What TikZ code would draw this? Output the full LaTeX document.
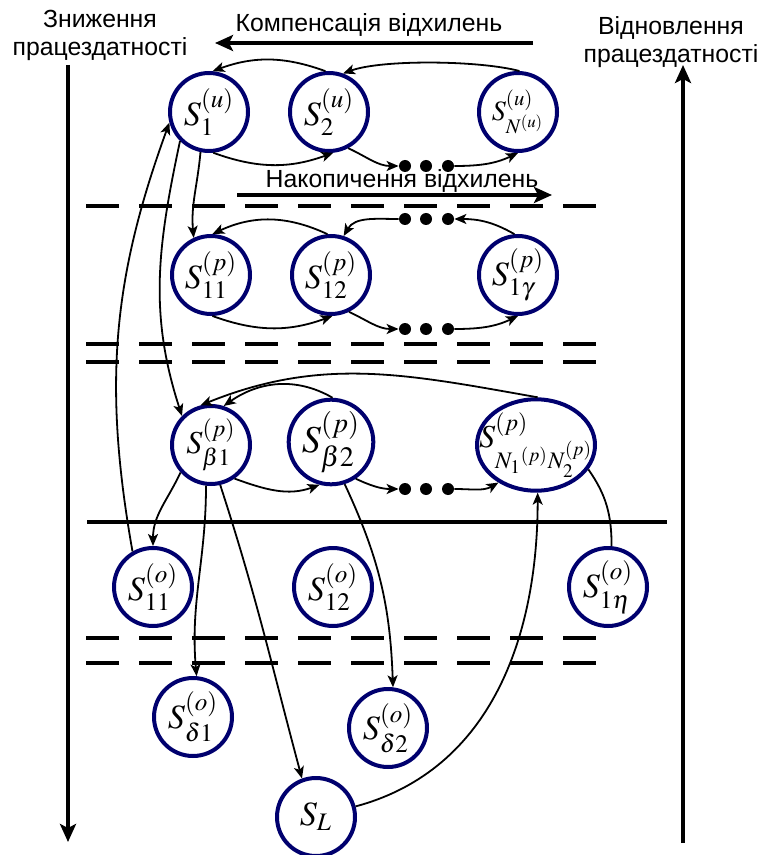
\documentclass[tikz,border=0pt]{standalone}
\usepackage[no-math]{fontspec}
\usepackage{amsmath}
\usepackage{mathptmx}
\usepackage{tikz}
\usetikzlibrary{arrows.meta,shapes.geometric}
\newfontfamily\labelfont{Liberation Sans}
\definecolor{statecol}{RGB}{0,0,110}

\begin{document}
\begin{tikzpicture}[x=0.5pt, y=-0.5pt,
  state/.style={draw=statecol, line width=2pt, circle, minimum size=39pt, inner sep=0pt, font=\fontsize{17}{19}\selectfont},
  dotnode/.style={circle, fill=black, minimum size=6pt, inner sep=0pt},
  link/.style={-{Stealth[length=6pt,width=5pt,inset=1.5pt]}, line width=0.9pt},
  bigarrow/.style={-{Stealth[length=9pt,width=8pt,inset=2pt]}, line width=2pt},
  sepline/.style={line width=2pt, dash pattern=on 16.5pt off 10pt},
  headtext/.style={font=\labelfont\fontsize{12.4}{14}\selectfont, align=center}]
\useasboundingbox (0,0) rectangle (759,855);

% headings and the big arrows
\node[headtext] (down) at (100,35) {Зниження\\працездатності};
\node[headtext] (up) at (671,42) {Відновлення\\працездатності};
\node[headtext] (comp) at (369,25) {Компенсація відхилень};
\node[headtext] (acc) at (402,181) {Накопичення відхилень};
\coordinate (downtop) at (68,65);
\coordinate (downend) at (68,842);
\coordinate (upend) at (683,65);
\coordinate (upbot) at (683,843);
\coordinate (compbeg) at (533,43);
\coordinate (compend) at (215,43);
\coordinate (accbeg) at (237,195);
\coordinate (accend) at (552,195);
\draw[bigarrow] (downtop) -- (downend);
\draw[bigarrow] (upbot) -- (upend);
\draw[bigarrow] (compbeg) -- (compend);
\draw[bigarrow] (accbeg) -- (accend);

% level borders
\draw[sepline] (86,206) -- (598,206);
\draw[sepline] (86,344) -- (598,344);
\draw[sepline] (86,362) -- (598,362);
\draw[line width=2pt] (87,522) -- (667,522);
\draw[sepline] (86,638) -- (598,638);
\draw[sepline] (86,663) -- (598,663);

% states (u)
\node[state] (S1u) at (209,112) {$S^{(u)}_1$};
\node[state] (S2u) at (329,112) {$S^{(u)}_2$};
\node[state, font=\fontsize{14}{16}\selectfont] (SNu) at (518,112) {$S^{(u)}_{N^{(u)}}$};
\node[dotnode] (d1a) at (405,166) {};
\node[dotnode] (d1b) at (426,166) {};
\node[dotnode] (d1c) at (448,166) {};

% states (p), first group
\node[state] (S11p) at (211,275) {$S^{(p)}_{11}$};
\node[state] (S12p) at (331,275) {$S^{(p)}_{12}$};
\node[state] (S1gp) at (518,275) {$S^{(p)}_{1\gamma}$};
\node[dotnode] (d2a) at (405,219) {};
\node[dotnode] (d2b) at (426,219) {};
\node[dotnode] (d2c) at (448,219) {};
\node[dotnode] (d3a) at (405,329) {};
\node[dotnode] (d3b) at (426,329) {};
\node[dotnode] (d3c) at (448,329) {};

% states (p), beta group
\node[state, font=\fontsize{16}{18}\selectfont] (Sb1) at (211,445) {$S^{(p)}_{\beta 1}$};
\node[state, font=\fontsize{19}{21}\selectfont] (Sb2) at (331,442) {$S^{(p)}_{\beta 2}$};
\node[state, ellipse, minimum width=59pt, minimum height=40pt, font=\fontsize{16}{18}\selectfont] (SNN) at (536,445) {\makebox[20pt]{$S^{(p)}_{N_1{}^{(p)}N_2^{(p)}}$}};
\node[dotnode] (d4a) at (405,489) {};
\node[dotnode] (d4b) at (426,489) {};
\node[dotnode] (d4c) at (448,489) {};

% states (o) and S_L
\node[state] (S11o) at (153,587) {$S^{(o)}_{11}$};
\node[state] (S12o) at (333,587) {$S^{(o)}_{12}$};
\node[state] (S1eo) at (608,587) {$S^{(o)}_{1\eta}$};
\node[state] (Sd1) at (193,717) {$S^{(o)}_{\delta 1}$};
\node[state] (Sd2) at (388,728) {$S^{(o)}_{\delta 2}$};
\node[state] (SL) at (316,817) {$S_L$};

% links of the top row
\draw[link] (SNu.88) to[out=165,in=20,looseness=0.6] (S2u.70);
\draw[link] (S2u.95) to[out=160,in=20] (S1u.85);
\draw[link] (S1u.-84) to[out=-20,in=-160] (S2u.-84);
\draw[link] (S2u.-62) to[out=-25,in=180] (d1a);
\draw[link] (d1c) to[out=0,in=-155] (SNu.-90);

% links of the second row
\draw[link] (S1gp.95) to[out=150,in=0] (d2c);
\draw[link] (d2a) to[out=180,in=60] (S12p.72);
\draw[link] (S12p.95) to[out=155,in=25] (S11p.88);
\draw[link] (S11p.-88) to[out=-20,in=-160] (S12p.-88);
\draw[link] (S12p.-64) to[out=-25,in=180] (d3a);
\draw[link] (d3c) to[out=0,in=-155] (S1gp.-90);

% links of the beta row
\draw[link] (SNN.88) to[out=170,in=22] (Sb1.105);
\draw[link] (Sb2.88) to[out=150,in=35] (Sb1.72);
\draw[link] (Sb1.-55) to[out=-20,in=-160] (Sb2.-105);
\draw[link] (Sb2.-56) to[out=-25,in=180] (d4a);
\draw[link] (d4c) to[out=0,in=-150] (SNN.225);

% links between the levels
\draw[link] (S1u.-102) to[out=-95,in=95] (S11p.115);
\draw[link] (S1u.-135) to[out=-102,in=108] (Sb1.135);
\draw[link] (S11o.120) to[out=100,in=-110] (S1u.195);
\draw[link] (Sb1.-138) to[out=-115,in=90] (S11o.90);
\draw[link] (Sb1.-97) to[out=-90,in=95] (Sd1.85);
\draw[link] (Sb1.-77) to[out=-72,in=105] (SL.110);
\draw[link] (Sb2.-72) to[out=-65,in=92] (Sd2.83);
\draw[link] (SL.15) to[out=15,in=-90] (SNN.-88);
\draw[line width=0.9pt] (SNN.-25) to[out=-55,in=90] (S1eo.85);
\end{tikzpicture}
\end{document}
